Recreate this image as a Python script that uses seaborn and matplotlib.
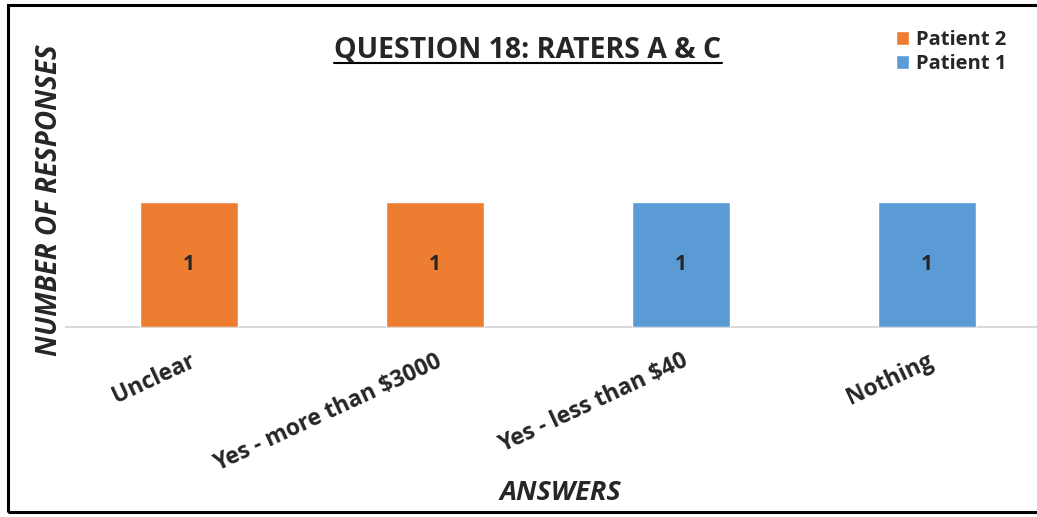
import pandas as pd
import seaborn as sns
import matplotlib.pyplot as plt
from matplotlib.patches import Rectangle
from matplotlib.lines import Line2D

# Data
answers = ['Unclear', 'Yes - more than $3000', 'Yes - less than $40', 'Nothing']
patients = ['Patient 2', 'Patient 2', 'Patient 1', 'Patient 1']
counts = [1, 1, 1, 1]

palette = {'Patient 2': '#ED7D31', 'Patient 1': '#5B9BD5'}

df = pd.DataFrame({'Answer': answers, 'Patient': patients, 'Count': counts})

sns.set_style('white')
plt.rcParams['font.family'] = ['Open Sans', 'DejaVu Sans']

fig = plt.figure(figsize=(10.37, 5.17), dpi=100)
ax = fig.add_axes([66 / 1037, 190 / 517, 984 / 1037, 150 / 517])

sns.barplot(data=df, x='Answer', y='Count', hue='Patient', palette=palette,
            dodge=False, width=0.4, saturation=1, ax=ax)

ax.set_ylim(0, 1.2)
ax.set_xlim(-0.5, 3.5)
ax.set_yticks([])
ax.set_ylabel('')
for s in ['top', 'right', 'left']:
    ax.spines[s].set_visible(False)
ax.spines['bottom'].set_color('#D9D9D9')
ax.spines['bottom'].set_linewidth(1.5)
ax.spines['bottom'].set_zorder(0)

# value labels in the middle of each bar
for cont in ax.containers:
    ax.bar_label(cont, label_type='center', fontsize=15, fontweight='bold')

ax.tick_params(axis='x', length=0, pad=16)
plt.setp(ax.get_xticklabels(), rotation=25, ha='right', rotation_mode='anchor',
         fontsize=16.5, fontweight='bold')

ax.set_xlabel('')
fig.text(560 / 1037, 1 - 493 / 517, 'ANSWERS', ha='center', va='center',
         fontsize=19.5, fontweight='bold', fontstyle='italic')
fig.text(50 / 1037, 1 - 200 / 517, 'NUMBER OF RESPONSES', rotation=90,
         ha='center', va='center', fontsize=20, fontweight='bold', fontstyle='italic')

# title with underline
title = fig.text(528 / 1037, 1 - 50 / 517, 'QUESTION 18: RATERS A & C',
                 ha='center', va='center', fontsize=20.5, fontweight='bold')
fig.canvas.draw()
bb = title.get_window_extent().transformed(fig.transFigure.inverted())
fig.add_artist(Line2D([bb.x0, bb.x1], [bb.y0 + 0.002, bb.y0 + 0.002],
                      color='black', linewidth=1.5, transform=fig.transFigure))

leg = ax.legend(loc='upper left', bbox_to_anchor=(878 / 1037, 1 - 12 / 517),
                bbox_transform=fig.transFigure, frameon=False,
                prop={'weight': 'bold', 'size': 14.5}, handlelength=0.65,
                handleheight=0.65, handletextpad=0.35, labelspacing=0.2)

# chart border
fig.add_artist(Rectangle((8 / 1037, 5 / 517), 1.05, 1 - 10 / 517,
                         transform=fig.transFigure, fill=False,
                         edgecolor='black', linewidth=2.2))

plt.savefig('out.png', dpi=100)
